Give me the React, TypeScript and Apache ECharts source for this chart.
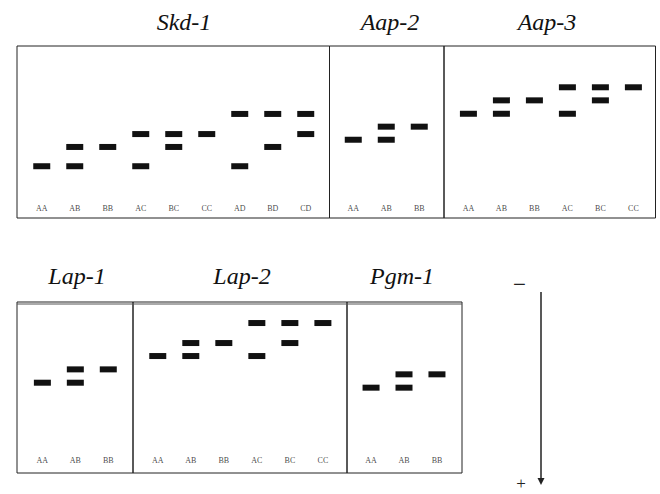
import React, { useEffect, useRef } from "react";
import * as echarts from "echarts";

// ---- Data (relative migration: 0 = bottom of gel frame, 100 = top) ----
const skdGenotypes = ["AA", "AB", "BB", "AC", "BC", "CC", "AD", "BD", "CD"];
const skdAlleles = ["A", "B", "C", "D"];
const skdMobility = [30.1, 41.3, 48.8, 60.5];

const aap2Genotypes = ["AA", "AB", "BB"];
const aap2Alleles = ["A", "B"];
const aap2Mobility = [45.5, 53.1];

const aap3Genotypes = ["AA", "AB", "BB", "AC", "BC", "CC"];
const aap3Alleles = ["A", "B", "C"];
const aap3Mobility = [60.6, 68.4, 76.0];

const lap1Genotypes = ["AA", "AB", "BB"];
const lap1Alleles = ["A", "B"];
const lap1Mobility = [52.8, 60.6];

const lap2Genotypes = ["AA", "AB", "BB", "AC", "BC", "CC"];
const lap2Alleles = ["A", "B", "C"];
const lap2Mobility = [68.4, 76.0, 87.7];

const pgm1Genotypes = ["AA", "AB", "BB"];
const pgm1Alleles = ["A", "B"];
const pgm1Mobility = [49.9, 57.7];

const locusNames = ["Skd-1", "Aap-2", "Aap-3", "Lap-1", "Lap-2", "Pgm-1"];
const labelLevel = [5.8, 5.8, 5.8, 7.3, 7.3, 7.3];

const loci = [
  { genotypes: skdGenotypes, alleles: skdAlleles, mobility: skdMobility },
  { genotypes: aap2Genotypes, alleles: aap2Alleles, mobility: aap2Mobility },
  { genotypes: aap3Genotypes, alleles: aap3Alleles, mobility: aap3Mobility },
  { genotypes: lap1Genotypes, alleles: lap1Alleles, mobility: lap1Mobility },
  { genotypes: lap2Genotypes, alleles: lap2Alleles, mobility: lap2Mobility },
  { genotypes: pgm1Genotypes, alleles: pgm1Alleles, mobility: pgm1Mobility },
];

// ---- Layout ----
const gridLayout = [
  { left: 17, top: 46, width: 312.5, height: 172, xmin: -0.75, xmax: 8.72 },
  { left: 329.5, top: 46, width: 114.5, height: 172, xmin: -0.72, xmax: 2.75 },
  { left: 444, top: 46, width: 211.5, height: 172, xmin: -0.74, xmax: 5.67 },
  { left: 17, top: 302, width: 116, height: 171, xmin: -0.77, xmax: 2.75 },
  { left: 133, top: 302, width: 214, height: 171, xmin: -0.75, xmax: 5.73 },
  { left: 347, top: 302, width: 115, height: 171, xmin: -0.73, xmax: 2.76 },
];
const titlePos = [
  [184, 22],
  [390, 22],
  [547, 22],
  [77, 276],
  [242, 276],
  [402, 276],
];

function buildBands(genotypes: string[], alleles: string[], mobility: number[]) {
  const out: number[][] = [];
  genotypes.forEach((g, i) => {
    const uniq = Array.from(new Set(g.split("")));
    uniq.forEach((a) => {
      out.push([i, mobility[alleles.indexOf(a)]]);
    });
  });
  return out;
}

export default function App() {
  const ref = useRef<HTMLDivElement>(null);
  useEffect(() => {
    if (!ref.current) return;
    const chart = echarts.init(ref.current, undefined, { renderer: "svg" });
    const serif = "Liberation Serif";

    const grid = gridLayout.map((g) => ({
      left: g.left,
      top: g.top,
      width: g.width,
      height: g.height,
      show: true,
      borderColor: "#222",
      borderWidth: 1,
      backgroundColor: "transparent",
    }));
    const xAxis = gridLayout.map((g, i) => ({
      type: "value",
      gridIndex: i,
      min: g.xmin,
      max: g.xmax,
      show: false,
    }));
    const yAxis = gridLayout.map((_, i) => ({
      type: "value",
      gridIndex: i,
      min: 0,
      max: 100,
      show: false,
    }));

    const series: any[] = [];
    loci.forEach((l, i) => {
      series.push({
        type: "scatter",
        name: locusNames[i],
        xAxisIndex: i,
        yAxisIndex: i,
        symbol: "rect",
        symbolSize: [17, 6],
        itemStyle: { color: "#111", opacity: 1 },
        data: buildBands(l.genotypes, l.alleles, l.mobility),
        silent: true,
      });
      series.push({
        type: "scatter",
        name: locusNames[i] + " genotypes",
        xAxisIndex: i,
        yAxisIndex: i,
        symbolSize: 0,
        data: l.genotypes.map((g, k) => [k, labelLevel[i], g]),
        label: {
          show: true,
          position: "inside",
          formatter: (p: any) => p.data[2],
          fontFamily: serif,
          fontSize: 8,
          color: "#111",
        },
        silent: true,
      });
    });

    const graphic: any[] = locusNames.map((name, i) => ({
      type: "text",
      x: titlePos[i][0],
      y: titlePos[i][1],
      style: {
        text: name,
        fontFamily: serif,
        fontStyle: "italic",
        fontSize: 24,
        fill: "#111",
        align: "center",
        verticalAlign: "middle",
      },
    }));
    graphic.push(
      {
        type: "line",
        shape: { x1: 17, y1: 304, x2: 462, y2: 304 },
        style: { stroke: "#555", lineWidth: 1 },
      },
      {
        type: "line",
        shape: { x1: 541, y1: 292, x2: 541, y2: 479 },
        style: { stroke: "#222", lineWidth: 1.5 },
      },
      {
        type: "polygon",
        shape: { points: [[537.5, 478], [544.5, 478], [541, 485]] },
        style: { fill: "#222" },
      },
      {
        type: "text",
        x: 519.5,
        y: 284,
        style: {
          text: "\u2212",
          fontFamily: serif,
          fontSize: 23,
          fill: "#222",
          align: "center",
          verticalAlign: "middle",
        },
      },
      {
        type: "text",
        x: 521,
        y: 483,
        style: {
          text: "+",
          fontFamily: serif,
          fontSize: 17,
          fill: "#222",
          align: "center",
          verticalAlign: "middle",
        },
      }
    );

    chart.setOption({
      animation: false,
      backgroundColor: "#fff",
      grid,
      xAxis,
      yAxis,
      series,
      graphic,
    });
    return () => chart.dispose();
  }, []);

  return (
    <div
      ref={ref}
      style={{ position: "fixed", left: 0, top: 0, width: 660, height: 494 }}
    />
  );
}
